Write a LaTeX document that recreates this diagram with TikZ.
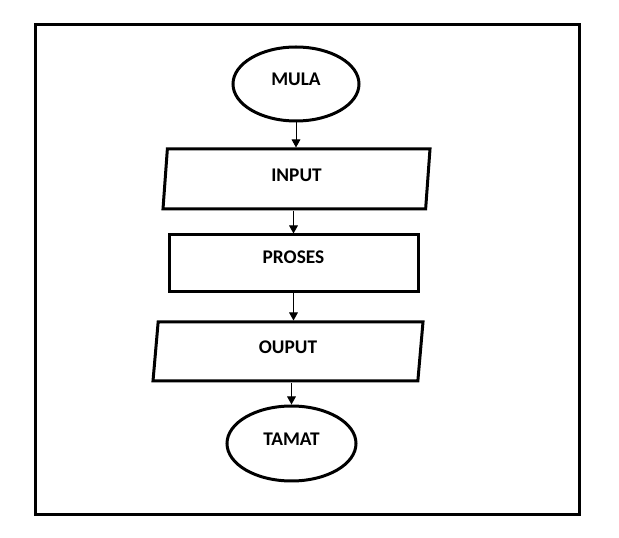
\documentclass[tikz,border=0pt]{standalone}
\usepackage{fontspec}
\setmainfont{Carlito}
\usetikzlibrary{shapes.geometric,arrows.meta}
\tikzset{
	terminal/.style={draw,ellipse,line width=2.25pt,inner sep=0pt,text depth=7pt},
	inout/.style={draw,trapezium,trapezium stretches body,line width=2.25pt,inner sep=0pt,text depth=6pt},
	process/.style={draw,rectangle,line width=2.25pt,inner sep=0pt,text depth=9pt},
	flow/.style={-{Triangle[width=6.5pt,length=6pt]},line width=0.75pt}
}
\begin{document}
\begin{tikzpicture}[x=0.75pt,y=-0.75pt,font=\bfseries\fontsize{14.5}{17}\selectfont]
	\useasboundingbox (0,0) rectangle (619,538);
	\draw[line width=2.25pt] (35,25) rectangle (579,515);
	\node[terminal,minimum width=94.5pt,minimum height=55.5pt] (mula) at (296,84) {MULA};
	\node[inout,trapezium left angle=78,trapezium right angle=102,minimum width=200.25pt,minimum height=45pt] (input) at (296.5,179) {INPUT};
	\node[process,minimum width=186.75pt,minimum height=42.75pt] (proses) at (293.5,263.5) {PROSES};
	\node[inout,trapezium left angle=76,trapezium right angle=104,minimum width=202.5pt,minimum height=44.25pt] (ouput) at (288,351.5) {OUPUT};
	\node[terminal,minimum width=96.75pt,minimum height=56.25pt] (tamat) at (291.5,443.5) {TAMAT};
	\draw[flow] (mula.south) -- (mula.south |- input.north);
	\draw[flow] (proses.north |- input.south) -- (proses.north);
	\draw[flow] (proses.south) -- (proses.south |- ouput.north);
	\draw[flow] (tamat.north |- ouput.south) -- (tamat.north);
\end{tikzpicture}
\end{document}
